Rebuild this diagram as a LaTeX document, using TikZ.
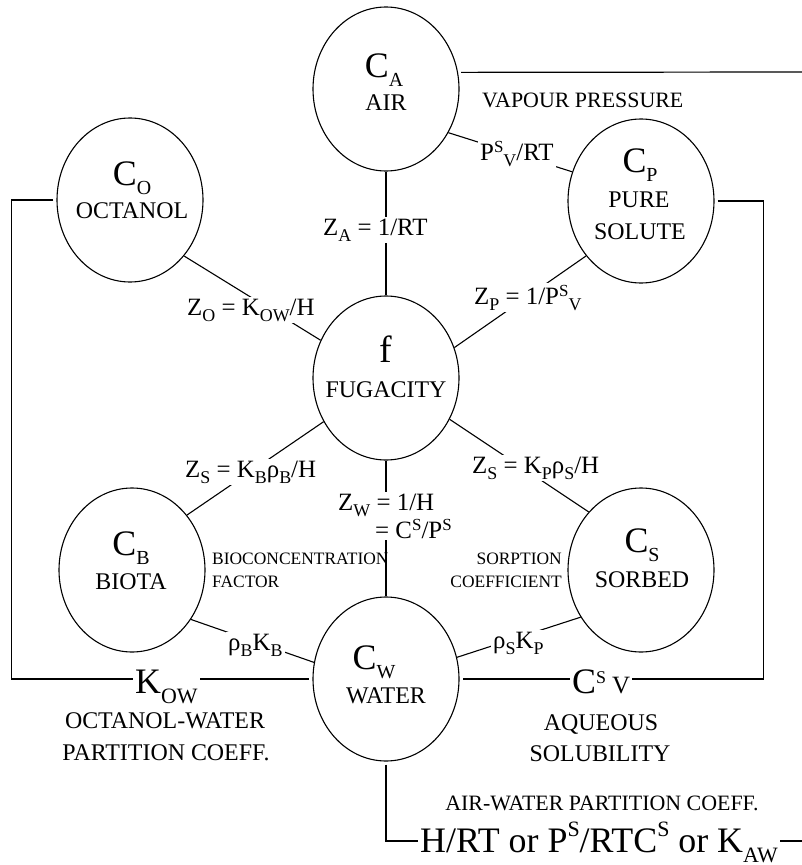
\documentclass[tikz,border=0pt]{standalone}
\usepackage{fontspec}
\setmainfont{Liberation Serif}
\usetikzlibrary{shapes.geometric}
\newcommand\fsz[1]{\fontsize{#1}{#1}\selectfont}
% subscript under a big letter
\newcommand\bsub[1]{\raisebox{-9bp}{\fsz{20}#1}}
% superscript on a big letter
\newcommand\bsup[1]{\raisebox{16bp}{\fsz{22}#1}}
% formula subscript / superscript
\newcommand\fsub[1]{\raisebox{-6bp}{\fsz{18}#1}}
\newcommand\fsup[1]{\raisebox{8bp}{\fsz{17}#1}}
\tikzset{
  ell/.style={draw, ellipse, line width=1.1bp, minimum width=146bp, minimum height=164bp, inner sep=0pt},
  con/.style={line width=1.1bp},
  frm/.style={line width=1.2bp, shorten <=3bp, shorten >=3bp},
  bigc/.style={inner sep=0pt, font=\fsz{36}},
  nm/.style={inner sep=0pt, font=\fsz{24}},
  lbl/.style={fill=white, inner sep=2bp, font=\fsz{25}},
  biglbl/.style={fill=white, inner sep=2bp, font=\fsz{36}},
  small/.style={inner sep=0pt, font=\fsz{17.5}},
  mid/.style={inner sep=0pt, font=\fsz{22}},
  captxt/.style={inner sep=0pt, font=\fsz{24}}
}
\begin{document}
\begin{tikzpicture}[x=1bp, y=-1bp]
\useasboundingbox (0,0) rectangle (802,865);
% compartments
\node[ell] (air) at (386,89) {};
\node[ell] (oct) at (130,200) {};
\node[ell] (pure) at (641,201) {};
\node[ell] (fug) at (386,378) {};
\node[ell] (bio) at (132,570) {};
\node[ell] (sorb) at (641,570) {};
\node[ell] (water) at (386,679) {};
% texts inside
\node[bigc, anchor=base] (airC) at (384,77) {C\bsub{A}};
\node[nm, anchor=base] (airN) at (386,110) {AIR};
\node[bigc, anchor=base] (octC) at (132,185) {C\bsub{O}};
\node[nm, anchor=base] (octN) at (132,218) {OCTANOL};
\node[bigc, anchor=base] (pureC) at (640,172) {C\bsub{P}};
\node[nm, anchor=base] (pureN1) at (639,207) {PURE};
\node[nm, anchor=base] (pureN2) at (640,239) {SOLUTE};
\node[inner sep=0pt, font=\fsz{38}, anchor=base] (fugC) at (386,362) {f};
\node[nm, anchor=base] (fugN) at (386,397) {FUGACITY};
\node[bigc, anchor=base] (bioC) at (131,555) {C\bsub{B}};
\node[nm, anchor=base] (bioN) at (131,589) {BIOTA};
\node[bigc, anchor=base] (sorbC) at (642,552) {C\bsub{S}};
\node[nm, anchor=base] (sorbN) at (642,587) {SORBED};
\node[bigc, anchor=base] (waterC) at (374,669) {C\bsub{W}};
\node[nm, anchor=base] (waterN) at (386,703) {WATER};
% connectors
\draw[con] (air.-35) -- (pure.157);
\draw[con] (air.south) -- (fug.north);
\draw[con] (oct.-46) -- (fug.150);
\draw[con] (pure.-135) -- (fug.24.5);
\draw[con] (fug.-145.5) -- (bio.45.5);
\draw[con] (fug.-33.3) -- (sorb.132.4);
\draw[con] (fug.south) -- (water.north);
\draw[con] (bio.-40.4) -- (water.167.8);
\draw[con] (sorb.-142.8) -- (water.17);
% frame lines
\coordinate (airR) at (802,72);
\draw[frm, shorten >=0pt] (air.13.5) -- (airR);
\draw[frm] (pure.east) -- ++(49,0) |- (water.east);
\draw[frm] (oct.west) -- ++(-45,0) |- (water.west);
\coordinate (botR) at (802,841);
\draw[frm, shorten >=0pt] (water.south) |- (botR);
% labels on connectors
\node[lbl, anchor=base west] (za) at (321,235) {Z\fsub{A} = 1/RT};
\node[lbl, anchor=base west] (psv) at (478,160) {P\fsup{S}\fsub{V}/RT};
\node[lbl, anchor=base west] (zo) at (185,315) {Z\fsub{O} = K\fsub{OW}/H};
\node[lbl, anchor=base west] (zp) at (472,304) {Z\fsub{P} = 1/P\fsup{S}\fsub{V}};
\node[lbl, anchor=base west] (zsb) at (183,477) {Z\fsub{S} = K\fsub{B}ρ\fsub{B}/H};
\node[lbl, anchor=base west] (zss) at (470,473) {Z\fsub{S} = K\fsub{P}ρ\fsub{S}/H};
\node[lbl, anchor=base west] (zw1) at (336,510) {Z\fsub{W} = 1/H};
\node[lbl, anchor=base west] (zw2) at (373,538) {= C\fsup{S}/P\fsup{S}};
\node[lbl, anchor=base west] (rbk) at (226,650) {ρ\fsub{B}K\fsub{B}};
\node[lbl, anchor=base west] (rsk) at (491,648) {ρ\fsub{S}K\fsub{P}};
\node[biglbl, anchor=base west] (kow) at (133,693) {K\raisebox{-10bp}{\fsz{22}OW}};
\node[biglbl, anchor=base west] (csv) at (570,693) {C\raisebox{10bp}{\fsz{18}S}\,{\fsz{25}V}};
\node[biglbl, anchor=base west] (kaw) at (418,852) {H/RT or P\bsup{S}/RTC\bsup{S} or K\raisebox{-10bp}{\fsz{22}AW}};
% free texts
\node[mid, anchor=base west] (vp) at (482,107) {VAPOUR PRESSURE};
\node[small, anchor=base west] (bcf1) at (212,564) {BIOCONCENTRATION};
\node[small, anchor=base west] (bcf2) at (212,587) {FACTOR};
\node[small, anchor=base east] (sc1) at (562,564) {SORPTION};
\node[small, anchor=base east] (sc2) at (562,587) {COEFFICIENT};
\node[captxt, anchor=base] (ow1) at (165,728) {OCTANOL-WATER};
\node[captxt, anchor=base] (ow2) at (166,760) {PARTITION COEFF.};
\node[captxt, anchor=base] (aq1) at (601,730) {AQUEOUS};
\node[captxt, anchor=base] (aq2) at (600,761) {SOLUBILITY};
\node[mid, anchor=base] (aw) at (602,810) {AIR-WATER PARTITION COEFF.};
\end{tikzpicture}
\end{document}
